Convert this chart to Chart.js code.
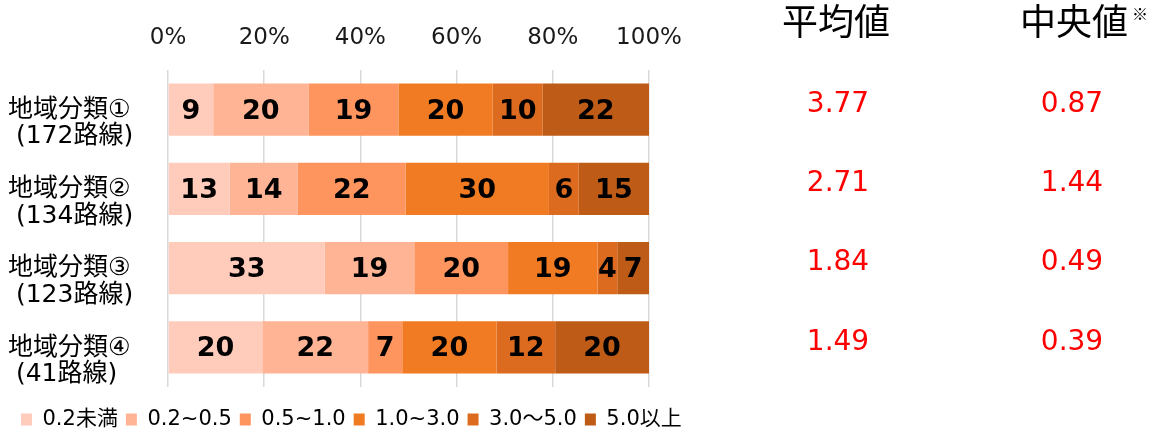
<!DOCTYPE html>
<html>
<head>
<meta charset="utf-8">
<script src="https://cdn.jsdelivr.net/npm/chart.js@4/dist/chart.umd.min.js"></script>
<style>
  html, body { margin: 0; padding: 0; background: #fff; }
  #wrap { width: 1161px; height: 434px; position: relative; }
</style>
</head>
<body>
<div id="wrap"><canvas id="c" width="1161" height="434"></canvas></div>
<script>
// ---- data ----
const categories = ['地域分類①', '地域分類②', '地域分類③', '地域分類④'];
const routeLabels = [' (172路線)', ' (134路線)', ' (123路線)', ' (41路線)'];
const binLabels = ['0.2未満', '0.2~0.5', '0.5~1.0', '1.0~3.0', '3.0～5.0', '5.0以上'];
const binColors = ['#FFCBBB', '#FFB496', '#FF955E', '#F07B22', '#DC6B1F', '#BE5B17'];
const shareBelow02 = [9.4, 12.8, 32.6, 19.6];
const share02to05 = [19.8, 14.2, 18.6, 22.0];
const share05to10 = [18.7, 22.4, 19.5, 7.1];
const share10to30 = [19.6, 29.8, 18.6, 19.6];
const share30to50 = [10.4, 6.2, 4.1, 12.2];
const share50plus = [22.1, 14.6, 6.6, 19.5];
const meanValues = ['3.77', '2.71', '1.84', '1.49'];
const medianValues = ['0.87', '1.44', '0.49', '0.39'];
const xTickLabels = ['0%', '20%', '40%', '60%', '80%', '100%'];
const meanHeader = '平均値';
const medianHeader = '中央値';
const medianNote = '※';

const seriesValues = [shareBelow02, share02to05, share05to10, share10to30, share30to50, share50plus];
const FONT = "'DejaVu Sans', 'Noto Sans CJK JP', sans-serif";
const CJK = "'Noto Sans CJK JP', 'DejaVu Sans', sans-serif";

const valueLabelPlugin = {
  id: 'valueLabels',
  afterDatasetsDraw(chart) {
    const ctx = chart.ctx;
    ctx.save();
    ctx.font = 'bold 27px ' + FONT;
    ctx.fillStyle = '#000';
    ctx.textAlign = 'center';
    ctx.textBaseline = 'middle';
    chart.data.datasets.forEach((ds, di) => {
      const meta = chart.getDatasetMeta(di);
      meta.data.forEach((el, i) => {
        const v = ds.data[i];
        const cx = (el.x + el.base) / 2;
        ctx.fillText(String(Math.round(v)), cx, el.y + 2);
      });
    });
    ctx.restore();
  }
};

const sideTextPlugin = {
  id: 'sideText',
  afterDraw(chart) {
    const ctx = chart.ctx;
    const y = chart.scales.y;
    ctx.save();
    ctx.fillStyle = '#000';
    ctx.textAlign = 'center';
    ctx.textBaseline = 'middle';
    ctx.font = '36px ' + CJK;
    ctx.fillText(meanHeader, 836, 21);
    ctx.fillText(medianHeader, 1074, 21);
    ctx.font = '16px ' + CJK;
    ctx.fillText(medianNote, 1140, 14);
    ctx.fillStyle = '#FF0000';
    ctx.font = '28px ' + FONT;
    categories.forEach((c, i) => {
      const py = y.getPixelForValue(i) - 5;
      ctx.fillText(meanValues[i], 838, py);
      ctx.fillText(medianValues[i], 1072, py);
    });
    ctx.restore();
  }
};

const legendShiftPlugin = {
  id: 'legendShift',
  afterLayout(chart) {
    const lg = chart.legend;
    if (lg) { lg.top += 14; lg.bottom += 14; lg.left += 5; }
  }
};

new Chart(document.getElementById('c'), {
  type: 'bar',
  data: {
    labels: categories.map((c, i) => [c, routeLabels[i]]),
    datasets: seriesValues.map((vals, k) => ({
      label: binLabels[k],
      data: vals,
      backgroundColor: binColors[k],
      borderWidth: 0,
      barPercentage: 0.66,
      categoryPercentage: 1.0
    }))
  },
  options: {
    indexAxis: 'y',
    responsive: false,
    animation: false,
    layout: { padding: { left: 8, right: 0, top: 0, bottom: 8 } },
    scales: {
      x: {
        position: 'top',
        stacked: true,
        min: 0, max: 100,
        ticks: {
          stepSize: 20,
          padding: 18,
          color: '#1a1a1a',
          font: { family: FONT, size: 23 },
          callback: (v, idx) => xTickLabels[idx]
        },
        grid: { color: '#D9D9D9', lineWidth: 1.5, drawTicks: false },
        border: { display: false },
        afterFit(scale) { scale.height = 70; }
      },
      y: {
        stacked: true,
        ticks: {
          crossAlign: 'far',
          labelOffset: 14,
          padding: 0,
          color: '#000',
          font: { family: FONT, size: 25, lineHeight: 1.06 }
        },
        grid: { display: false, drawTicks: false },
        border: { display: false },
        afterFit(scale) { scale.width = 160; }
      },
      yRight: {
        type: 'category',
        position: 'right',
        display: true,
        ticks: { display: false },
        grid: { display: false, drawTicks: false },
        border: { display: false },
        afterFit(scale) { scale.width = 512; }
      }
    },
    plugins: {
      tooltip: { enabled: false },
      legend: {
        position: 'bottom',
        align: 'start',
        labels: {
          boxWidth: 11,
          boxHeight: 12,
          padding: 8,
          color: '#000',
          font: { family: FONT, size: 21 }
        }
      }
    }
  },
  plugins: [valueLabelPlugin, sideTextPlugin, legendShiftPlugin]
});
</script>
</body>
</html>
